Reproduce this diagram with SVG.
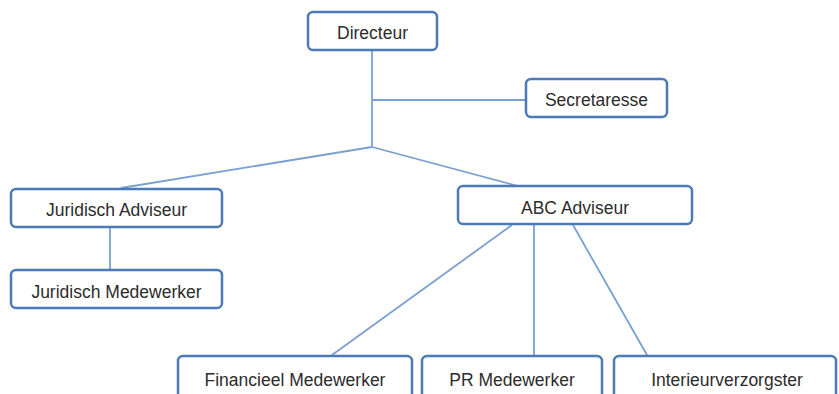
<svg xmlns="http://www.w3.org/2000/svg" width="839" height="394" viewBox="0 0 839 394">
<style>
.box{fill:#fff;stroke:#4a7ab9;stroke-width:2.5}
.lbl{font-family:"Liberation Sans",Arial,sans-serif;font-size:17.5px;fill:#2c2c2c;text-anchor:middle;dominant-baseline:central}
.con{stroke:#7aa0d0;stroke-width:1.8;fill:none}
</style>
<rect width="839" height="394" fill="#fff"/>
<g id="connectors">
<line class="con" x1="372" y1="50" x2="372" y2="147"/>
<line class="con" x1="372" y1="100" x2="526" y2="100"/>
<line class="con" x1="372" y1="147" x2="121" y2="188"/>
<line class="con" x1="372" y1="147" x2="518" y2="186"/>
<line class="con" x1="110" y1="227" x2="110" y2="269"/>
<line class="con" x1="512" y1="225" x2="332" y2="355"/>
<line class="con" x1="534" y1="225" x2="534" y2="355"/>
<line class="con" x1="573" y1="225" x2="647" y2="355"/>
</g>
<g id="directeur"><rect class="box" x="308" y="12" width="129" height="38" rx="5"/><text class="lbl" x="372.5" y="33">Directeur</text></g>
<g id="secretaresse"><rect class="box" x="526" y="79" width="141" height="38" rx="5"/><text class="lbl" x="596.5" y="100">Secretaresse</text></g>
<g id="juridisch-adviseur"><rect class="box" x="11" y="189" width="211" height="38" rx="5"/><text class="lbl" x="116.5" y="210">Juridisch Adviseur</text></g>
<g id="juridisch-medewerker"><rect class="box" x="11" y="270" width="211" height="38" rx="5"/><text class="lbl" x="116.5" y="292">Juridisch Medewerker</text></g>
<g id="abc-adviseur"><rect class="box" x="458" y="186" width="234" height="38" rx="5"/><text class="lbl" x="575" y="208">ABC Adviseur</text></g>
<g id="financieel-medewerker"><rect class="box" x="178" y="356" width="234" height="44" rx="5"/><text class="lbl" x="295" y="380">Financieel Medewerker</text></g>
<g id="pr-medewerker"><rect class="box" x="422" y="356" width="180" height="44" rx="5"/><text class="lbl" x="512" y="380">PR Medewerker</text></g>
<g id="interieurverzorgster"><rect class="box" x="614" y="356" width="222" height="44" rx="5"/><text class="lbl" x="727" y="380">Interieurverzorgster</text></g>
</svg>
